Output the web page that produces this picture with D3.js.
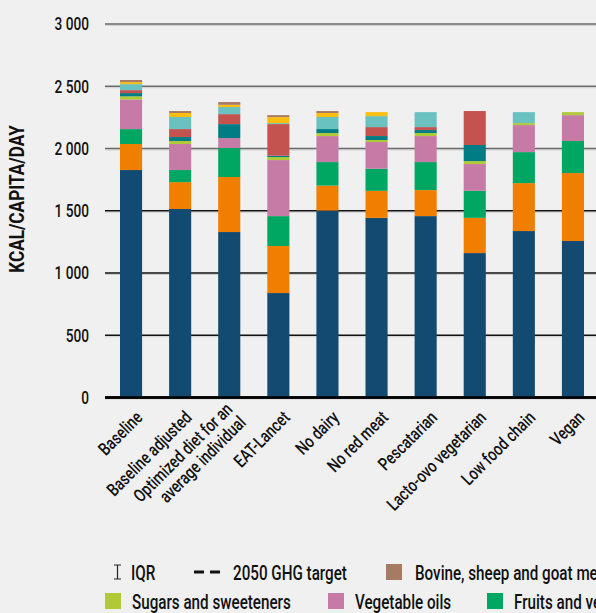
<!DOCTYPE html>
<html><head><meta charset="utf-8">
<script src="https://cdn.jsdelivr.net/npm/d3@7/dist/d3.min.js"></script>
<style>
html,body{margin:0;padding:0;background:#f0f0f0;overflow:hidden;}
svg{display:block;font-family:Roboto,"Noto Sans",sans-serif;}
</style></head><body>
<svg id="c" width="596" height="613"></svg>
<script>
const categories = ["Baseline","Baseline adjusted","Optimized diet for an|average individual","EAT-Lancet","No dairy","No red meat","Pescatarian","Lacto-ovo vegetarian","Low food chain","Vegan"];
const seriesNames = ["Cereals","Roots and pulses","Fruits and vegetables","Vegetable oils","Sugars and sweeteners","Eggs","Dairy","Fish and seafood","Pig meat and poultry","Bovine, sheep and goat meat"];
const seriesColors = ["#134a72","#f07f00","#00a762","#c67ba6","#b0ca35","#007c84","#c45350","#69c2c0","#fcbd11","#a87a63"];
const cereals    = [1827,1514,1329, 839,1501,1443,1457,1160,1337,1257];
const roots      = [ 209, 216, 442, 378, 201, 217, 209, 283, 385, 546];
const fruitsVeg  = [ 120,  97, 233, 240, 189, 177, 225, 217, 249, 257];
const vegOils    = [ 238, 209,  80, 450, 209, 215, 209, 215, 217, 208];
const sugars     = [  25,  24,   0,  24,  24,  16,  24,  24,  16,  24];
const eggs       = [  26,  32, 112,  11,  32,  32,  24, 129,   0,   0];
const dairy      = [  24,  64,  80, 254,   0,  72,  24, 273,   0,   0];
const fish       = [  48,  97,  57,   8,  97,  88, 120,   0,  88,   0];
const pigPoultry = [  16,  32,  18,  48,  32,  32,   0,   0,   0,   0];
const bovine     = [  17,  16,  22,  16,  16,   0,   0,   0,   0,   0];
const seriesValues = [cereals,roots,fruitsVeg,vegOils,sugars,eggs,dairy,fish,pigPoultry,bovine];
const yTicks = [0,500,1000,1500,2000,2500,3000];
const yTitle = "KCAL/CAPITA/DAY";
const legendRow1 = ["IQR","2050 GHG target","Bovine, sheep and goat meat"];
const legendRow2 = ["Sugars and sweeteners","Vegetable oils","Fruits and vegetables"];

const SX = 0.78; // horizontal condensing of the font
const svg = d3.select("#c");
const x = d3.scaleBand().domain(categories).range([106.5,597.5]).paddingInner(0.55).paddingOuter(0.275);
const y = d3.scaleLinear().domain([0,3000]).range([397.5,24]);
const fmt = v => d3.format(",")(v).replace(/,/g," ");

function txt(parent, tx, ty, rot, str, o){
  o = o||{};
  const t = parent.append("text")
    .attr("transform",`translate(${tx},${ty})` + (rot?` rotate(${rot})`:"") + ` scale(${o.sx||SX},1)`)
    .attr("text-anchor",o.anchor||"start").attr("font-size",o.size||18)
    .attr("font-weight",o.weight||"500").attr("fill","#111");
  if(o.dy) t.attr("dy",o.dy);
  t.text(str);
  return t;
}

// gridlines
const g = svg.append("g");
yTicks.forEach(t=>{
  const yy = y(t);
  g.append("line").attr("x1",105).attr("x2",596).attr("y1",yy+1.5).attr("y2",yy+1.5)
    .attr("stroke","#cfcfcf").attr("stroke-width",1.2);
  g.append("line").attr("x1",105).attr("x2",596).attr("y1",yy).attr("y2",yy)
    .attr("stroke", t===0 ? "#000" : (t>=2000 ? "#6a6a6a" : "#111"))
    .attr("stroke-width", t===0 ? 2.4 : 1.6);
});
// tick labels (positioned with y scale)
const ya = svg.append("g");
yTicks.forEach(t=> txt(ya, 89, y(t), 0, fmt(t), {anchor:"end", size:18, dy:"0.36em", sx:0.76}));

// stacked bars
const rows = categories.map((c,i)=>{const o={cat:c}; seriesNames.forEach((s,j)=>o[s]=seriesValues[j][i]); return o;});
const stack = d3.stack().keys(seriesNames)(rows);
const color = d3.scaleOrdinal().domain(seriesNames).range(seriesColors);
svg.append("g").selectAll("g").data(stack).join("g").attr("fill",d=>color(d.key))
  .selectAll("rect").data(d=>d.filter(p=>p[1]-p[0]>0)).join("rect")
  .attr("x",d=>x(d.data.cat)).attr("width",x.bandwidth())
  .attr("y",d=>y(d[1])).attr("height",d=>y(d[0])-y(d[1]));
svg.append("line").attr("x1",105).attr("x2",596).attr("y1",y(0)).attr("y2",y(0)).attr("stroke","#000").attr("stroke-width",2.4);

// x labels
const xl = svg.append("g");
categories.forEach(c=>{
  const lines = c.split("|");
  const cx = x(c)+x.bandwidth()/2;
  if(lines.length===1){
    txt(xl, cx+5, 411, -45, lines[0], {anchor:"end", size:18, dy:"0.6em"});
  } else {
    txt(xl, cx+5, 411, -45, lines[0], {anchor:"end", size:18, dy:"-0.05em"});
    txt(xl, cx+5, 411, -45, lines[1], {anchor:"end", size:18, dy:"1.0em"});
  }
});

// y title
txt(svg, 24, 199, -90, yTitle, {anchor:"middle", size:20, weight:"bold", sx:0.86});

// legend
const L = svg.append("g");
L.append("path").attr("d","M114,565 H121 M117.5,565 V579 M114,579 H121").attr("stroke","#222").attr("stroke-width",1.2).attr("fill","none");
L.append("path").attr("d","M194,572 H204 M210,572 H220").attr("stroke","#111").attr("stroke-width",3.2).attr("fill","none");
const r1x = [131,233,415];
legendRow1.forEach((n,i)=>{
  if(i>=2){
    const ci = seriesNames.indexOf(n);
    L.append("rect").attr("x",r1x[i]-29).attr("y",564).attr("width",16).attr("height",16).attr("fill",seriesColors[ci]);
  }
  txt(L, r1x[i], 580, 0, n, {size:19.5});
});
const r2x = [132,355,514];
legendRow2.forEach((n,i)=>{
  const ci = seriesNames.indexOf(n);
  L.append("rect").attr("x",r2x[i]-27).attr("y",593).attr("width",16).attr("height",16).attr("fill",seriesColors[ci]);
  txt(L, r2x[i], 609, 0, n, {size:19.5});
});
</script>
</body></html>
